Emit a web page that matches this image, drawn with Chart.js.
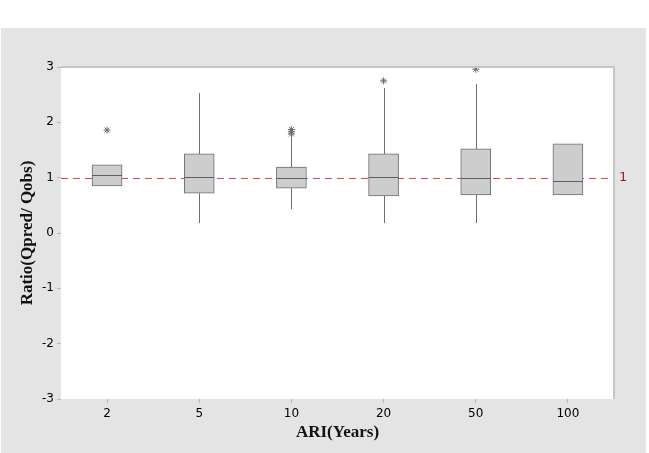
<!DOCTYPE html>
<html lang="en">
<head>
  <meta charset="UTF-8" />
  <script src="https://cdn.jsdelivr.net/npm/chart.js"></script>
  <title>Ratio Qpred/Qobs by ARI</title>
  <style>
    body { margin: 0; background: #ffffff; }
    #panel { position: absolute; left: 1px; top: 28px; width: 645px; height: 425px; background: #e4e4e4; }
  </style>
</head>
<body>
  <div id="panel"><canvas id="grafico" width="645" height="425"></canvas></div>

  <script>
    // dados
    const categories = ['2', '5', '10', '20', '50', '100']
    const q1 = [0.85, 0.72, 0.81, 0.67, 0.69, 0.69]
    const median = [1.05, 1.01, 0.99, 1.01, 0.99, 0.94]
    const q3 = [1.23, 1.43, 1.19, 1.43, 1.52, 1.61]
    const whiskerLow = [null, 0.18, 0.43, 0.18, 0.18, null]
    const whiskerHigh = [null, 2.53, 1.81, 2.62, 2.69, null]
    const outlierCats = ['2', '10', '10', '10', '20', '50']
    const outlierVals = [1.86, 1.87, 1.83, 1.79, 2.75, 2.96]
    const refValue = 1
    const yTicks = [-3, -2, -1, 0, 1, 2, 3]

    const boxExtras = {
      id: 'boxExtras',
      beforeDraw(chart) {
        const { ctx, chartArea: a } = chart
        ctx.save()
        ctx.fillStyle = '#ffffff'
        ctx.fillRect(a.left, a.top, a.right - a.left, a.bottom - a.top)
        ctx.restore()
      },
      beforeDatasetsDraw(chart) {
        const { ctx, chartArea: a, scales: { x, y } } = chart
        ctx.save()
        // linha de referência
        const ry = Math.round(y.getPixelForValue(refValue)) + 0.5
        ctx.strokeStyle = '#d6484b'
        ctx.lineWidth = 1
        ctx.setLineDash([7, 5])
        ctx.beginPath()
        ctx.moveTo(a.left, ry)
        ctx.lineTo(a.right, ry)
        ctx.stroke()
        ctx.setLineDash([])
        // bigodes
        ctx.strokeStyle = '#6e6e6e'
        categories.forEach((c, i) => {
          if (whiskerHigh[i] == null) return
          const px = Math.round(x.getPixelForValue(i)) + 0.5
          ctx.beginPath()
          ctx.moveTo(px, y.getPixelForValue(q3[i]))
          ctx.lineTo(px, y.getPixelForValue(whiskerHigh[i]))
          ctx.moveTo(px, y.getPixelForValue(q1[i]))
          ctx.lineTo(px, y.getPixelForValue(whiskerLow[i]))
          ctx.stroke()
        })
        ctx.restore()
      },
      afterDatasetsDraw(chart) {
        const { ctx, chartArea: a, scales: { x, y } } = chart
        const bars = chart.getDatasetMeta(0).data
        ctx.save()
        ctx.strokeStyle = '#5e5e5e'
        ctx.lineWidth = 1
        categories.forEach((c, i) => {
          const px = x.getPixelForValue(i)
          const w = bars[i].width
          const my = Math.round(y.getPixelForValue(median[i])) + 0.5
          ctx.beginPath()
          ctx.moveTo(px - w / 2, my)
          ctx.lineTo(px + w / 2, my)
          ctx.stroke()
        })
        // borda da área do gráfico
        ctx.strokeStyle = '#c6c6c6'
        ctx.lineWidth = 2
        ctx.beginPath()
        ctx.moveTo(a.left, a.top)
        ctx.lineTo(a.right, a.top)
        ctx.lineTo(a.right, a.bottom)
        ctx.stroke()
        // rótulo "1"
        ctx.fillStyle = '#9e1b1b'
        ctx.font = '13px "DejaVu Sans"'
        ctx.textBaseline = 'middle'
        ctx.fillText(String(refValue), a.right + 5, y.getPixelForValue(refValue))
        ctx.restore()
      }
    }

    new Chart(document.getElementById('grafico'), {
      data: {
        labels: categories,
        datasets: [
          {
            type: 'bar',
            label: 'Box',
            data: categories.map((c, i) => [q1[i], q3[i]]),
            backgroundColor: '#cdcdcd',
            borderColor: '#6e6e6e',
            borderWidth: 1,
            borderSkipped: false,
            barThickness: 30
          },
          {
            type: 'scatter',
            label: 'Outliers',
            data: outlierCats.map((c, i) => ({ x: c, y: outlierVals[i] })),
            pointStyle: 'star',
            radius: 3.5,
            borderColor: '#6a6a6a',
            backgroundColor: '#6a6a6a',
            borderWidth: 1
          }
        ]
      },
      options: {
        responsive: false,
        animation: false,
        layout: { padding: { top: 39, right: 32, left: 0, bottom: 0 } },
        plugins: { legend: { display: false }, tooltip: { enabled: false } },
        scales: {
          x: {
            type: 'category',
            offset: true,
            afterFit: s => { s.height = 54 },
            grid: { display: true, offset: false, drawOnChartArea: false, drawTicks: true, tickLength: 4, color: '#b8b8b8' },
            border: { display: false },
            ticks: { padding: 4, color: '#000000', font: { family: '"DejaVu Sans"', size: 12 } },
            title: {
              display: true,
              text: 'ARI(Years)',
              color: '#111111',
              font: { family: '"Liberation Serif"', size: 17, weight: 'bold' },
              padding: { top: 0, bottom: 10 }
            }
          },
          y: {
            min: -3,
            max: 3,
            afterFit: s => { s.width = 60 },
            afterBuildTicks: s => { s.ticks = yTicks.map(v => ({ value: v })) },
            grid: { display: true, drawOnChartArea: false, drawTicks: true, tickLength: 4, color: '#b8b8b8' },
            border: { display: false },
            ticks: { padding: 3, color: '#000000', font: { family: '"DejaVu Sans"', size: 12 } },
            title: {
              display: true,
              text: 'Ratio(Qpred/ Qobs)',
              color: '#111111',
              font: { family: '"Liberation Serif"', size: 17, weight: 'bold' },
              padding: { top: 16, bottom: 0 }
            }
          }
        }
      },
      plugins: [boxExtras]
    })
  </script>
</body>
</html>
